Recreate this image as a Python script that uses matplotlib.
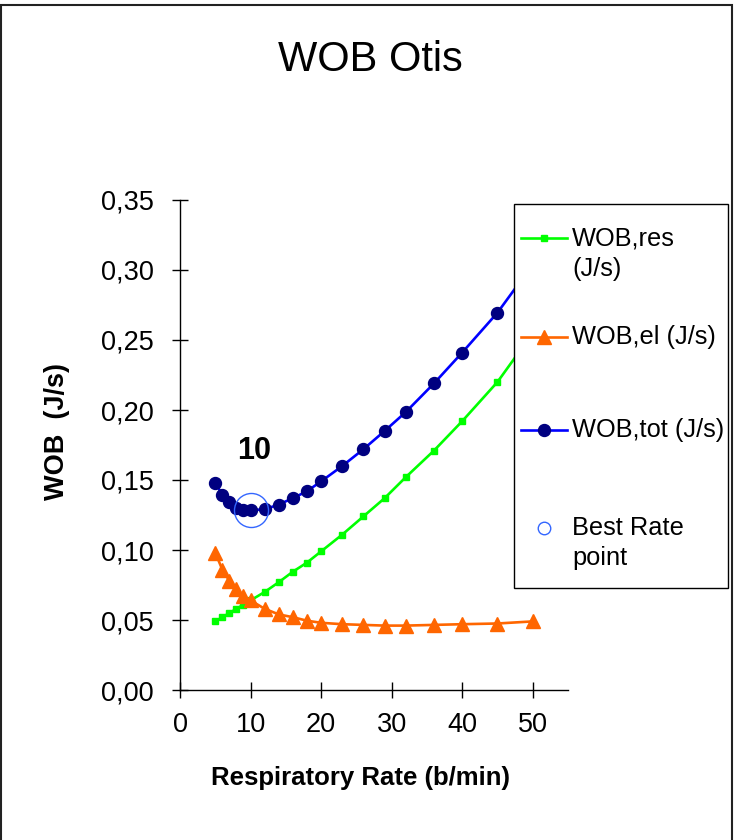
import matplotlib
matplotlib.use("Agg")
import matplotlib.pyplot as plt
from matplotlib.lines import Line2D
from matplotlib.patches import Rectangle
from matplotlib.ticker import FuncFormatter, MultipleLocator

plt.rcParams['font.family'] = ['Liberation Sans', 'DejaVu Sans']

# ---- data ----
rate = [5, 6, 7, 8, 9, 10, 12, 14, 16, 18, 20, 23, 26, 29, 32, 36, 40, 45, 50]
wob_res = [0.049, 0.052, 0.055, 0.058, 0.061, 0.064, 0.070, 0.077, 0.0845, 0.091,
           0.099, 0.111, 0.124, 0.137, 0.152, 0.171, 0.192, 0.220, 0.255]
wob_el = [0.098, 0.086, 0.078, 0.072, 0.067, 0.064, 0.058, 0.054, 0.052, 0.0495,
          0.048, 0.047, 0.0465, 0.046, 0.046, 0.0465, 0.047, 0.0475, 0.049]
wob_tot = [0.148, 0.1395, 0.134, 0.130, 0.1285, 0.1285, 0.129, 0.1325, 0.137, 0.142,
           0.149, 0.160, 0.172, 0.185, 0.1985, 0.219, 0.241, 0.2695, 0.304]
best_rate = 10
best_wob = 0.1285

labels = ["WOB,res\n(J/s)", "WOB,el (J/s)", "WOB,tot (J/s)", "Best Rate\npoint"]
title = "WOB Otis"
xlabel = "Respiratory Rate (b/min)"
ylabel = "WOB  (J/s)"

W, H = 734, 840
fig = plt.figure(figsize=(W / 100, H / 100), dpi=100)

def fx(px):
    return px / W

def fy(py):
    return 1 - py / H

ax = fig.add_axes([fx(180), fy(690), fx(568) - fx(180), fy(200) - fy(690)])

green, orange, blue, navy, ring = "#00FF00", "#FF6600", "#0000FF", "#000080", "#3366FF"

ax.plot(rate, wob_res, color=green, lw=1.9, marker="s", ms=5, mfc=green, mec=green, zorder=3)
ax.plot(rate, wob_el, color=orange, lw=1.9, marker="^", ms=10, mfc=orange, mec=orange, zorder=3)
ax.plot(rate, wob_tot, color=blue, lw=1.9, marker="o", ms=8.6, mfc=navy, mec=navy, zorder=4)
ax.plot([best_rate], [best_wob], ls="none", marker="o", ms=24.5, mfc="none", mec=ring, mew=1.0, zorder=5)
ax.annotate(str(best_rate), xy=(best_rate, best_wob), xytext=(2.5, 42.5), textcoords="offset points",
            ha="center", va="center", fontsize=22, fontweight="bold")

ax.set_xlim(0, 55)
ax.set_ylim(0, 0.35)
ax.set_xticks([0, 10, 20, 30, 40, 50])
ax.yaxis.set_major_locator(MultipleLocator(0.05))
ax.yaxis.set_major_formatter(FuncFormatter(lambda v, p: f"{v:.2f}".replace(".", ",")))
for s in ("top", "right"):
    ax.spines[s].set_visible(False)
for s in ("left", "bottom"):
    ax.spines[s].set_linewidth(1.0)
ax.tick_params(axis="y", direction="inout", length=12, width=1.0, pad=13, labelsize=19.5)
ax.tick_params(axis="x", direction="inout", length=11, width=1.0, pad=10.5, labelsize=19.5)

ax.set_xlabel(xlabel, fontsize=18.5, fontweight="bold")
ax.xaxis.set_label_coords((360 - 180) / 388, (690 - 778) / 490)
ax.xaxis.label.set_va("center")
ax.set_ylabel(ylabel, fontsize=19.5, fontweight="bold")
ax.yaxis.set_label_coords((57 - 180) / 388, (690 - 432) / 490)
ax.yaxis.label.set_va("center")

fig.text(fx(370), fy(60), title, ha="center", va="center", fontsize=30)

# ---- legend (drawn as a boxed key) ----
tf = fig.transFigure
ax.add_patch(Rectangle((fx(514), fy(588)), fx(728) - fx(514), fy(204) - fy(588), transform=tf,
                       facecolor="white", edgecolor="black", lw=1.0, clip_on=False, zorder=10))
handle_y = [238, 337, 430, 528]
text_y = [254, 337, 430, 543]
styles = [dict(color=green, marker="s", ms=5, mfc=green, mec=green, lw=1.9),
          dict(color=orange, marker="^", ms=10, mfc=orange, mec=orange, lw=1.9),
          dict(color=blue, marker="o", ms=8.6, mfc=navy, mec=navy, lw=1.9),
          dict(ls="none", marker="o", ms=9, mfc="none", mec=ring, mew=1.0)]
for hy, ty, lab, st in zip(handle_y, text_y, labels, styles):
    ln = Line2D([fx(521), fx(544), fx(567)], [fy(hy)] * 3, transform=tf, clip_on=False, zorder=11,
                markevery=[1], **st)
    ax.add_line(ln)
    ax.text(fx(572), fy(ty), lab, transform=tf, ha="left", va="center", fontsize=18.3,
            linespacing=1.36, zorder=11, clip_on=False)

# ---- outer frame ----
fig.patches.append(Rectangle((fx(1.5), -0.05), fx(732) - fx(1.5), fy(5) + 0.05, transform=tf,
                             fill=False, edgecolor="#222222", lw=1.5, clip_on=False))

fig.savefig("out.png", dpi=100)
